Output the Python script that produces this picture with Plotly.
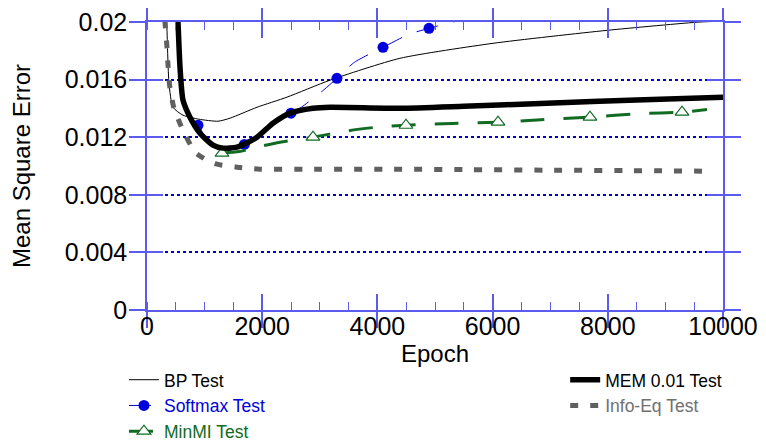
import plotly.graph_objects as go

# ---------------- data ----------------
bp_x = [300, 342, 382, 451, 625, 900, 1233, 1441, 1910, 2430, 3177, 4392, 6007, 7986, 9600, 10000]
bp_y = [0.0232, 0.0200, 0.01575, 0.01408, 0.01353, 0.01325, 0.01311, 0.01332, 0.01408, 0.01478,
        0.01596, 0.01748, 0.01852, 0.01942, 0.0200, 0.02005]

mem_x = [520, 538, 573, 625, 746, 920, 1146, 1319, 1562, 1910, 2187, 2482, 2882, 3177, 4392, 5500,
         6944, 8500, 10000]
mem_y = [0.0215, 0.0200, 0.01686, 0.01457, 0.01339, 0.01228, 0.01145, 0.01124, 0.01131, 0.0120,
         0.01297, 0.01367, 0.01401, 0.01408, 0.01401, 0.01415, 0.01436, 0.01458, 0.01478]

# Softmax before its first marker runs under the MEM curve
soft_x = [885, 1100, 1383, 1690, 1904, 2251, 2500, 2686, 3061, 3298, 3600,
          4097, 4549, 4896, 5312, 5700]
soft_y = [0.01283, 0.0116, 0.01105, 0.01150, 0.01214, 0.01306,
          0.01367, 0.0141, 0.01526, 0.01609, 0.0172, 0.01824, 0.01915, 0.01956, 0.0200, 0.0203]
soft_marked = [885, 1690, 2500, 3298, 4097, 4896]

# MinMI before its first marker runs under the MEM curve
minmi_x = [1302, 1600, 1910, 2309, 2882, 3500, 4000, 4496, 5300,
           6094, 6770, 7691, 8576, 9288, 9722]
minmi_y = [0.01089, 0.0110, 0.01131, 0.01165,
           0.0120, 0.01245, 0.0127, 0.01283, 0.01295, 0.01304, 0.0132, 0.01339, 0.01364, 0.01374,
           0.01392]
minmi_marked = [1302, 2882, 4496, 6094, 7691, 9288]

info_x = [290, 312, 342, 365, 399, 469, 625, 833, 1000, 1215, 1562, 1962, 3000, 4166, 5500, 6944,
          8300, 9750]
info_y = [0.0215, 0.0200, 0.01852, 0.0170, 0.0154, 0.0140, 0.01249, 0.01096, 0.0105, 0.01013,
          0.00992, 0.00978, 0.00978, 0.00978, 0.00975, 0.00971, 0.00968, 0.00964]

x_range = [0, 10000]
y_range = [0, 0.02]

# ---------------- styles ----------------
FONT = "Liberation Sans, Arial, Helvetica, sans-serif"
BLUE = "#0000dd"
GREEN = "#116b22"
GRAY = "#606060"
AXIS_BLUE = "#5b5bef"
GRID_BLUE = "#0000cc"
CLEAR = "rgba(0,0,0,0)"

soft_colors = [BLUE if x in soft_marked else CLEAR for x in soft_x]
minmi_fill = ["white" if x in minmi_marked else CLEAR for x in minmi_x]
minmi_edge = [GREEN if x in minmi_marked else CLEAR for x in minmi_x]

fig = go.Figure()

fig.add_trace(go.Scatter(
    x=bp_x, y=bp_y, mode="lines", name="BP Test", legend="legend",
    line=dict(color="black", width=1, shape="spline", smoothing=0.6)))

fig.add_trace(go.Scatter(
    x=soft_x, y=soft_y, mode="lines+markers", name="<span style='color:#0000dd'>Softmax Test</span>",
    legend="legend",
    line=dict(color=BLUE, width=1, dash="22px,16px", shape="spline", smoothing=0.6),
    marker=dict(symbol="circle", size=11, color=soft_colors, line=dict(width=0))))

fig.add_trace(go.Scatter(
    x=minmi_x, y=minmi_y, mode="lines+markers", name="<span style='color:#116b22'>MinMI Test</span>",
    legend="legend",
    line=dict(color=GREEN, width=3, dash="24px,19px", shape="spline", smoothing=0.6),
    marker=dict(symbol="triangle-up", size=12, color=minmi_fill,
                line=dict(width=1.2, color=minmi_edge))))

fig.add_trace(go.Scatter(
    x=info_x, y=info_y, mode="lines", name="<span style='color:#707070'>Info-Eq Test</span>",
    legend="legend2",
    line=dict(color=GRAY, width=5, dash="8px,12px", shape="spline", smoothing=0.6)))

fig.add_trace(go.Scatter(
    x=mem_x, y=mem_y, mode="lines", name="MEM 0.01 Test", legend="legend2",
    line=dict(color="black", width=5.5, shape="spline", smoothing=0.6)))

# invisible trace to activate overlay axes (inside ticks)
fig.add_trace(go.Scatter(x=[None], y=[None], xaxis="x2", yaxis="y2", showlegend=False,
                         hoverinfo="skip", mode="lines"))

# the page body adds an 8px margin, so the figure is 8px smaller than the window
fig.update_layout(
    width=758, height=435,
    margin=dict(l=139, r=43, t=14, b=133, autoexpand=False),
    paper_bgcolor="white", plot_bgcolor="white",
    font=dict(family=FONT, color="black"),
    xaxis=dict(
        range=x_range, tick0=0, dtick=2000, tickformat="d", ticks="outside", ticklen=16,
        tickwidth=1.5, automargin=False, ticklabeloverflow="allow",
        tickcolor=AXIS_BLUE, showline=True, linecolor=AXIS_BLUE, linewidth=1.5, mirror="ticks",
        showgrid=False, zeroline=False, tickfont=dict(size=25, family=FONT),
        ticklabelstandoff=-23,
        minor=dict(ticks="inside", ticklen=8, dtick=500, tickcolor=AXIS_BLUE, tickwidth=1.2,
                   showgrid=False),
        title=dict(text="Epoch", font=dict(size=24, family=FONT), standoff=0),
    ),
    yaxis=dict(
        range=y_range, tick0=0, dtick=0.004, ticks="outside", ticklen=16, tickwidth=1.5,
        automargin=False, ticklabeloverflow="allow", ticklabelstandoff=-3,
        tickcolor=AXIS_BLUE, showline=True, linecolor=AXIS_BLUE, linewidth=1.5, mirror="ticks",
        showgrid=True, gridcolor=GRID_BLUE, griddash="dot", gridwidth=1.5,
        zeroline=False, tickfont=dict(size=25, family=FONT),
        title=dict(text="Mean Square Error", font=dict(size=24, family=FONT), standoff=27),
    ),
    xaxis2=dict(
        range=x_range, overlaying="x", anchor="y2", tick0=0, dtick=2000, ticks="inside",
        ticklen=16, tickwidth=1.5, tickcolor=AXIS_BLUE, showline=False, mirror="ticks",
        showgrid=False, zeroline=False, showticklabels=False, automargin=False,
    ),
    yaxis2=dict(
        range=y_range, overlaying="y", anchor="x2", tick0=0, dtick=0.004, ticks="inside",
        ticklen=16, tickwidth=1.5, tickcolor=AXIS_BLUE, showline=False, mirror="ticks",
        showgrid=False, zeroline=False, showticklabels=False, automargin=False,
    ),
    legend=dict(
        x=-0.04, y=-0.18, xanchor="left", yanchor="top", orientation="v",
        font=dict(size=17.5, family=FONT), tracegroupgap=0,
        bgcolor="rgba(0,0,0,0)", traceorder="normal",
    ),
    legend2=dict(
        x=0.726, y=-0.18, xanchor="left", yanchor="top", orientation="v",
        font=dict(size=17.5, family=FONT), tracegroupgap=0,
        bgcolor="rgba(0,0,0,0)", traceorder="reversed",
    ),
    showlegend=True,
)

fig.write_html("out.html")
